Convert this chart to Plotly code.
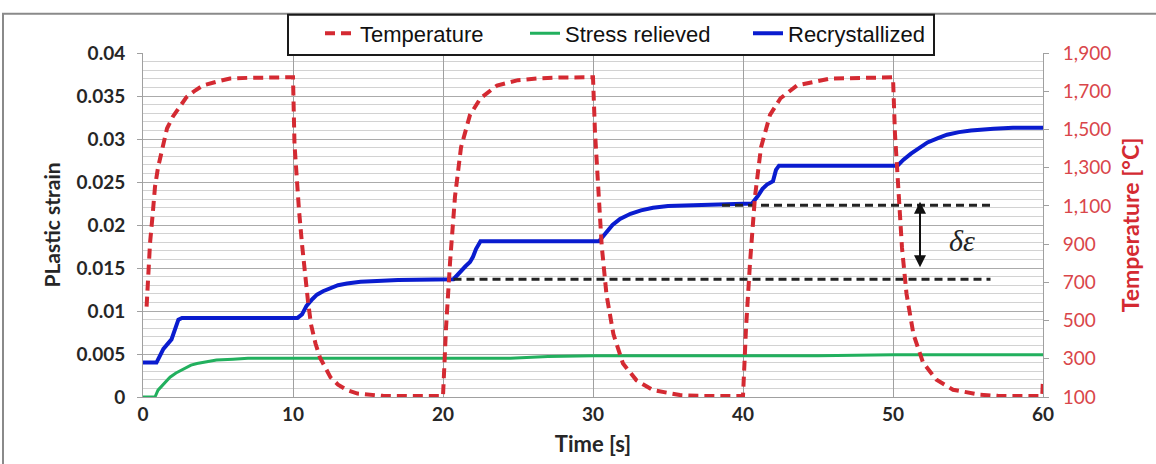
import plotly.graph_objects as go

# Temperature history (s, °C): three heat/cool cycles
temp_time = [
    0.24, 0.35, 0.47, 0.65, 0.8, 1.0, 1.36, 1.6, 2.0, 2.5, 2.9, 3.5, 4.0, 5.0, 5.8, 7.0, 8.0, 9.0, 10.0,
    10.1, 10.25, 10.4, 10.6, 10.8, 11.0, 11.2, 11.5, 11.8, 12.2, 12.5, 13.0, 13.6, 14.3, 15.1, 16.0, 18.0, 19.95,
    20.0, 20.1, 20.2, 20.47, 20.8, 21.2, 21.8, 22.5, 23.6, 25.0, 26.5, 28.0, 30.0,
    30.13, 30.36, 30.58, 30.9, 31.36, 32.0, 32.9, 34.0, 35.8, 37.0, 39.95,
    40.0, 40.1, 40.2, 40.47, 40.8, 41.2, 41.8, 42.5, 43.6, 45.8, 48.0, 50.0,
    50.13, 50.36, 50.6, 50.9, 51.36, 52.0, 52.9, 54.0, 55.8, 57.0, 59.95, 60.0,
]
temp_value = [
    573, 760, 907, 1060, 1200, 1300, 1437, 1505, 1568, 1628, 1669, 1705, 1730, 1752, 1766, 1770, 1772, 1773, 1773,
    1422, 1230, 1077, 900, 738, 600, 480, 380, 306, 245, 203, 165, 136, 118, 110, 106, 105, 105,
    105, 280, 460, 805, 1149, 1406, 1576, 1663, 1730, 1758, 1768, 1772, 1773,
    1489, 1149, 892, 635, 429, 275, 187, 136, 110, 106, 105,
    105, 280, 460, 805, 1149, 1406, 1576, 1663, 1730, 1766, 1772, 1773,
    1480, 1140, 880, 640, 430, 280, 190, 138, 112, 106, 105, 200,
]

# Plastic strain, recrystallized material
recr_time = [
    0, 0.9, 1.1, 1.36, 1.9, 2.1, 2.36, 2.6, 10.3, 10.6, 10.9, 11.3, 11.6, 12.0, 12.5, 13.0, 13.6, 14.5, 15.6,
    17.0, 20.7, 21.1, 21.5, 21.8, 22.0, 22.2, 22.5, 30.4, 30.8, 31.3, 31.8, 32.5, 33.2, 34.0, 35.0, 36.5, 38.5,
    40.6, 41.0, 41.3, 41.6, 42.0, 42.2, 42.4, 50.3, 50.7, 51.2, 51.8, 52.3, 53.0, 53.6, 54.4, 55.2, 56.7, 58.0,
    60.0,
]
recr_strain = [
    0.0040, 0.0040, 0.0047, 0.0056, 0.0067, 0.0077, 0.0090, 0.0092, 0.0092, 0.0096, 0.0106, 0.0114, 0.0119,
    0.0123, 0.0127, 0.0130, 0.0132, 0.0134, 0.0135, 0.0136, 0.0137, 0.0145, 0.0152, 0.0157, 0.0163, 0.0172,
    0.0181, 0.0181, 0.0190, 0.0200, 0.0207, 0.0213, 0.0217, 0.0220, 0.0222, 0.0223, 0.0224, 0.0225, 0.0234,
    0.0242, 0.0247, 0.0251, 0.0264, 0.0269, 0.0269, 0.0276, 0.0283, 0.0290, 0.0296, 0.0301, 0.0305, 0.0308,
    0.0310, 0.0312, 0.0313, 0.0313,
]

# Plastic strain, stress-relieved material
sr_time = [0, 0.8, 1.0, 1.3, 1.8, 2.2, 2.7, 3.2, 3.6, 4.2, 4.9, 6.0, 7.0, 10, 15, 20, 24.5, 27, 30, 35, 40, 45,
           50, 55, 60]
sr_strain = [0, 0, 0.0008, 0.0014, 0.0023, 0.0028, 0.0033, 0.0037, 0.0039, 0.0041, 0.0043, 0.0044, 0.0045,
             0.0045, 0.0045, 0.0045, 0.0045, 0.0047, 0.0048, 0.0048, 0.0048, 0.0048, 0.0049, 0.0049, 0.0049]

# Strain increment markers (levels before and after one cycle)
delta_levels = [0.0137, 0.0223]
delta_starts = [20.7, 38.6]
delta_end = 56.5
arrow_time = 51.8
arrow_span = [0.0149, 0.0227]

x_ticks = [0, 10, 20, 30, 40, 50, 60]
strain_ticks = [0, 0.005, 0.01, 0.015, 0.02, 0.025, 0.03, 0.035, 0.04]
strain_labels = ["0", "0.005", "0.01", "0.015", "0.02", "0.025", "0.03", "0.035", "0.04"]
temp_ticks = [100, 300, 500, 700, 900, 1100, 1300, 1500, 1700, 1900]
temp_labels = ["100", "300", "500", "700", "900", "1,100", "1,300", "1,500", "1,700", "1,900"]

RED = "#d42a32"
GREEN = "#22b05e"
BLUE = "#0a1ccf"
GRAY = "#a0a0a0"

fig = go.Figure()

fig.add_trace(go.Scatter(x=sr_time, y=sr_strain, name="Stress relieved", mode="lines",
                         line=dict(color=GREEN, width=3), legend="legend2"))
fig.add_trace(go.Scatter(x=recr_time, y=recr_strain, name="Recrystallized", mode="lines",
                         line=dict(color=BLUE, width=4), legend="legend3"))
for lvl, t0 in zip(delta_levels, delta_starts):
    fig.add_trace(go.Scatter(x=[t0, delta_end], y=[lvl, lvl], mode="lines", showlegend=False,
                             line=dict(color="#222222", width=3, dash="8px,5px"), hoverinfo="skip"))
fig.add_trace(go.Scatter(x=temp_time, y=temp_value, name="Temperature", mode="lines", yaxis="y2",
                         line=dict(color=RED, width=4, dash="10px,6px"), legend="legend"))

tick_font = dict(family="Lato", size=19, color="#262626", weight="bold")
legend_font = dict(family="Liberation Sans", size=22, color="#111111")
legend_y = (397 - 27) / 350


def legend_at(px):
    return dict(x=(px - 143) / 900, y=legend_y, xanchor="left", yanchor="middle", orientation="h",
                bgcolor="rgba(0,0,0,0)", borderwidth=0, font=legend_font)


fig.update_layout(
    width=1156, height=464,
    margin=dict(l=143, r=113, t=47, b=67),
    paper_bgcolor="white", plot_bgcolor="white",
    xaxis=dict(range=[0, 60], tickvals=x_ticks, showgrid=True, gridcolor=GRAY, gridwidth=1,
               showline=True, linecolor=GRAY, linewidth=1, zeroline=False, ticks="",
               tickfont=tick_font,
               title=dict(text="Time [s]", font=dict(family="Lato", size=22, color="#262626", weight="bold"),
                          standoff=12)),
    yaxis=dict(range=[0, 0.04], tickvals=strain_ticks, ticktext=strain_labels, showgrid=True,
               gridcolor="#ababab", gridwidth=1.4, showline=True, linecolor=GRAY, zeroline=False,
               ticks="outside", ticklen=5, tickcolor=GRAY, ticklabelstandoff=8, tickfont=tick_font,
               minor=dict(dtick=0.001, showgrid=True, gridcolor="#d2d2d2", gridwidth=1.4),
               title=dict(text="PLastic strain", font=dict(family="Lato", size=21, color="#262626", weight="bold"),
                          standoff=10)),
    yaxis2=dict(range=[100, 1900], tickvals=temp_ticks, ticktext=temp_labels, overlaying="y", side="right",
                showgrid=False, showline=True, linecolor=GRAY, zeroline=False, ticks="outside", ticklen=5,
                tickcolor=GRAY, ticklabelstandoff=10,
                tickfont=dict(family="Lato", size=19, color="#d9464a"),
                title=dict(text="Temperature [°C]", font=dict(family="Lato", size=23, color="#d42a32", weight="bold"),
                           standoff=12)),
    legend=legend_at(320),
    legend2=legend_at(525),
    legend3=legend_at(748),
    shapes=[
        # outer chart frame
        dict(type="rect", xref="paper", yref="paper", x0=(3 - 143) / 900, x1=(1170 - 143) / 900,
             y0=(397 - 480) / 350, y1=(397 - 7) / 350, line=dict(color="#8a8a8a", width=2), layer="below"),
        # legend box
        dict(type="rect", xref="paper", yref="paper", x0=(288 - 143) / 900, x1=(934 - 143) / 900,
             y0=(397 - 49) / 350, y1=(397 - 8) / 350, line=dict(color="#1a1a1a", width=2),
             fillcolor="white", layer="above"),
    ],
    annotations=[
        dict(x=arrow_time, y=arrow_span[1], ax=arrow_time, ay=arrow_span[0], xref="x", yref="y",
             axref="x", ayref="y", text="", showarrow=True, arrowhead=2, arrowside="end+start",
             arrowsize=1.2, arrowwidth=2, arrowcolor="#111111"),
        dict(x=54.6, y=0.0182, xref="x", yref="y", text="<i>δε</i>", showarrow=False,
             font=dict(family="Liberation Serif", size=30, color="#222222")),
    ],
)

fig.write_html("out.html")
